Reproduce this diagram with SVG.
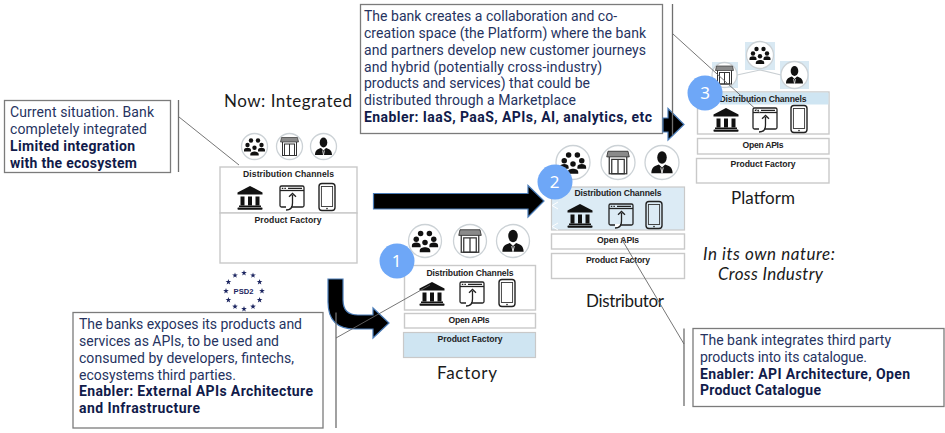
<svg xmlns="http://www.w3.org/2000/svg" width="945" height="433" viewBox="0 0 945 433">
<style>
.box{fill:#fff;stroke:#7b7b7b;stroke-width:1.3}
.bracket{fill:none;stroke:#6f6f6f;stroke-width:1.3}
.lead{fill:none;stroke:#666;stroke-width:.9}
.arrow{fill:#000;stroke:#4a7cb8;stroke-width:1.2}
.t{font-family:Roboto,"Noto Sans",sans-serif;font-size:14px;fill:#26335f}
.b{font-family:Roboto,"Noto Sans",sans-serif;font-size:14px;font-weight:700;fill:#111b4a}
.cell{fill:#fff;stroke:#c9c9c9;stroke-width:1.4}
.lab{font-family:"Liberation Sans",Arial,sans-serif;font-size:8.6px;font-weight:700;fill:#222;text-anchor:middle}
.cap{font-family:Lato,"Open Sans",sans-serif;font-size:17px;fill:#1a1a1a;text-anchor:middle}
.it{font-family:Lato,"Open Sans",sans-serif;font-size:17px;font-style:italic;fill:#1a1a1a}
.ring{fill:#fff;stroke:#ccd2d6;stroke-width:1.3}
.badge{fill:#6ea7f7}
.num{font-family:"Noto Sans",sans-serif;font-size:17px;fill:#fff;text-anchor:middle}
.ol{fill:none;stroke:#222;stroke-width:1.3}
.star{fill:#1c2560}
</style>
<defs>
<g id="bank"><path d="M0-11L12.5-4.5V-2.5H-12.5V-4.5Z" fill="#111"/><rect x="-9.5" y="-.5" width="4" height="9" fill="#111"/><rect x="-2" y="-.5" width="4" height="9" fill="#111"/><rect x="5.5" y="-.5" width="4" height="9" fill="#111"/><rect x="-11" y="8.5" width="22" height="1.5" fill="#111"/><rect x="-12.5" y="10.5" width="25" height="2.2" rx=".8" fill="#111"/></g>
<g id="web"><rect x="-12" y="-11" width="24" height="21" rx="1.5" class="ol"/><path d="M-12-6.5H12" class="ol"/><path d="M-10.2-8.7h1.5M-7.6-8.7h1.5M-4-8.7H10" stroke="#222" stroke-width="1.2" fill="none"/><rect x="-6" y="9" width="5" height="3" fill="#fff"/><path d="M-6 13C0 13 .5 9 .5 6V-2M-3-.2L.5-3.5 4-.2" class="ol"/></g>
<g id="phone"><rect x="-8" y="-13.5" width="16" height="27" rx="3" fill="none" stroke="#222" stroke-width="1.4"/><rect x="-5.6" y="-10.5" width="11.2" height="20" fill="none" stroke="#333" stroke-width=".9"/><circle cx="0" cy="11.6" r=".8" fill="#222"/></g>
<g id="people"><circle cx="-3.5" cy="-6" r="2.2" fill="#111"/><circle cx="3.5" cy="-6" r="2.2" fill="#111"/><circle cx="-7" cy="-1.5" r="2.2" fill="#111"/><circle cx="7" cy="-1.5" r="2.2" fill="#111"/><circle cx="0" cy="1.2" r="2.2" fill="#111"/><path d="M-10.5 3.5c0-3 7-3 7 0V5h-7ZM3.5 3.5c0-3 7-3 7 0V5h-7ZM-4.2 7.5c0-3.4 8.4-3.4 8.4 0V9h-8.4Z" fill="#111"/></g>
<g id="shop"><rect x="-7" y="-8" width="14" height="17" fill="none" stroke="#333" stroke-width="1"/><path d="M-8-9H8L9-4.5H-9Z" fill="#8a8a8a" stroke="#333" stroke-width=".7"/><rect x="-5" y="-2.5" width="10" height="11.5" fill="none" stroke="#333" stroke-width="1"/><path d="M0-2.500V9" stroke="#333" stroke-width="1"/></g>
<g id="person"><ellipse cx="0" cy="-4" rx="3.800" ry="5" fill="#111"/><path d="M-8.500 8.500C-8.500 3-5 2.500-2.500 1.500L0 4 2.500 1.500C5 2.500 8.500 3 8.500 8.500Z" fill="#111"/><path d="M-1 4L0 8.500 1 4" stroke="#fff" stroke-width=".7" fill="none"/></g>
<polygon id="s" points="0,-3 .7,-1 2.85,-.93 1.14,.37 1.76,2.43 0,1.2 -1.76,2.43 -1.14,.37 -2.85,-.93 -.7,-1" class="star"/>
</defs>
<rect width="945" height="433" fill="#fff"/>

<g id="note-current">
<rect class="box" x="4.500" y="100.500" width="166" height="72"/>
<text class="t" x="10" y="117" textLength="144">Current situation. Bank</text>
<text class="t" x="10" y="134" textLength="137">completely integrated</text>
<text class="b" x="10" y="151" textLength="125">Limited integration</text>
<text class="b" x="10" y="168" textLength="127">with the ecosystem</text>
</g>
<g id="title-now"><text class="cap" x="288" y="107" textLength="128">Now: Integrated</text></g>

<g id="note-platform">
<rect class="box" x="360.500" y="4.500" width="302" height="129"/>
<text class="t" x="364" y="21" textLength="253">The bank creates a collaboration and co-</text>
<text class="t" x="364" y="38" textLength="282">creation space (the Platform) where the bank</text>
<text class="t" x="364" y="55" textLength="282">and partners develop new customer journeys</text>
<text class="t" x="364" y="71.500" textLength="238">and hybrid (potentially cross-industry)</text>
<text class="t" x="364" y="88" textLength="226">products and services) that could be</text>
<text class="t" x="364" y="104.500" textLength="212">distributed through a Marketplace</text>
<text class="b" x="364" y="121.500" textLength="288">Enabler: IaaS, PaaS, APIs, AI, analytics, etc</text>
</g>

<g id="note-factory">
<rect class="box" x="73" y="312.500" width="250" height="115.500"/>
<text class="t" x="79" y="329" textLength="223">The banks exposes its products and</text>
<text class="t" x="79" y="346" textLength="200">services as APIs, to be used and</text>
<text class="t" x="79" y="363" textLength="215">consumed by developers, fintechs,</text>
<text class="t" x="79" y="379.500" textLength="157">ecosystems third parties.</text>
<text class="b" x="79" y="396" textLength="234">Enabler: External APIs Architecture</text>
<text class="b" x="79" y="412.500" textLength="121">and Infrastructure</text>
</g>

<g id="note-distributor">
<rect class="box" x="693" y="328.500" width="251" height="78"/>
<text class="t" x="700" y="345" textLength="191">The bank integrates third party</text>
<text class="t" x="700" y="362" textLength="167">products into its catalogue.</text>
<text class="b" x="700" y="378.500" textLength="210">Enabler: API Architecture, Open</text>
<text class="b" x="700" y="395" textLength="121">Product Catalogue</text>
</g>

<g id="psd2">
<use href="#s" x="244" y="273"/><use href="#s" x="253" y="275.400"/><use href="#s" x="259.600" y="282"/><use href="#s" x="262" y="291"/><use href="#s" x="259.600" y="300"/><use href="#s" x="253" y="306.600"/><use href="#s" x="244" y="309"/><use href="#s" x="235" y="306.600"/><use href="#s" x="228.400" y="300"/><use href="#s" x="226" y="291"/><use href="#s" x="228.400" y="282"/><use href="#s" x="235" y="275.400"/>
<text x="243.500" y="294" font-family="Liberation Sans,sans-serif" font-size="7.600" font-weight="700" fill="#1c2560" text-anchor="middle">PSD2</text>
</g>

<g id="node-integrated">
<rect class="cell" x="220" y="167" width="137" height="46"/>
<rect class="cell" x="220" y="213" width="137" height="50"/>
<text class="lab" x="288.500" y="177" textLength="91">Distribution Channels</text>
<text class="lab" x="288" y="223" textLength="67">Product Factory</text>
<use href="#bank" x="250" y="197"/><use href="#web" x="292" y="197"/><use href="#phone" x="327" y="197"/>
<circle class="ring" cx="254.500" cy="146.500" r="13"/><use href="#people" x="254.500" y="146.500"/>
<circle class="ring" cx="289.500" cy="146.500" r="13"/><use href="#shop" x="289.500" y="146.500"/>
<circle class="ring" cx="323.500" cy="146.500" r="13"/><use href="#person" x="323.500" y="146.500"/>
</g>

<g id="node-factory">
<rect class="cell" x="404.500" y="265.500" width="131" height="44.500"/>
<rect class="cell" x="404.500" y="313.500" width="131" height="14.500"/>
<rect x="403.500" y="332.500" width="132" height="25" fill="#cfe5f2" stroke="#c9c9c9" stroke-width="1.200"/>
<text class="lab" x="470" y="276" textLength="87">Distribution Channels</text>
<text class="lab" x="469" y="323" textLength="41">Open APIs</text>
<text class="lab" x="470" y="342" textLength="65">Product Factory</text>
<use href="#bank" x="432" y="293"/><use href="#web" x="472" y="293"/><use href="#phone" x="507" y="293"/>
<circle class="ring" cx="425" cy="241" r="16.500"/><use href="#people" transform="translate(425 241) scale(1.250)"/>
<circle class="ring" cx="470" cy="241" r="16.500"/><use href="#shop" transform="translate(470 241) scale(1.250)"/>
<circle class="ring" cx="513" cy="241" r="16.500"/><use href="#person" transform="translate(513 241) scale(1.250)"/>
<circle class="badge" cx="397" cy="261" r="17.500"/><text class="num" x="396.500" y="267">1</text>
<text class="cap" x="467" y="379" textLength="60">Factory</text>
</g>

<g id="node-distributor">
<rect x="551.500" y="187" width="133" height="43" fill="#dcebf5" stroke="#c9c9c9" stroke-width="1.200"/>
<rect class="cell" x="551.500" y="234" width="133" height="15"/>
<rect class="cell" x="551.500" y="253.500" width="133" height="25"/>
<text class="lab" x="618" y="196" textLength="87">Distribution Channels</text>
<text class="lab" x="618" y="243" textLength="42">Open APIs</text>
<text class="lab" x="618" y="263" textLength="64">Product Factory</text>
<use href="#bank" x="580" y="215"/><use href="#web" x="621" y="215"/><use href="#phone" x="654" y="215"/>
<path d="M558 202l-6 3.500 6 3.500M558 223l-6 3.500 6 3.500" fill="none" stroke="#fff" stroke-width="1"/>
<circle class="ring" cx="573" cy="162.500" r="17"/><use href="#people" transform="translate(573 162.500) scale(1.250)"/>
<circle class="ring" cx="618" cy="162.500" r="17"/><use href="#shop" transform="translate(618 162.500) scale(1.250)"/>
<circle class="ring" cx="662" cy="162.500" r="17"/><use href="#person" transform="translate(662 162.500) scale(1.250)"/>
<circle class="badge" cx="555" cy="182" r="17.500"/><text class="num" x="554.500" y="188">2</text>
<text class="cap" x="625" y="307" textLength="78">Distributor</text>
</g>

<g id="node-platform">
<rect class="cell" x="697.500" y="92" width="131.500" height="42"/>
<rect x="720" y="92.500" width="108.500" height="12" fill="#cfe5f2"/>
<rect class="cell" x="697.500" y="138.500" width="131.500" height="15.500"/>
<rect class="cell" x="696.500" y="158.500" width="132.500" height="24.500"/>
<text class="lab" x="763" y="102" textLength="87">Distribution Channels</text>
<text class="lab" x="763" y="148" textLength="41">Open APIs</text>
<text class="lab" x="763" y="167" textLength="65">Product Factory</text>
<use href="#bank" x="726" y="119"/><use href="#web" x="765" y="119"/><use href="#phone" x="799" y="119"/>
<rect x="745" y="42" width="30" height="28" fill="#d9e9f3"/><rect x="712" y="62" width="26" height="26" fill="#d9e9f3"/><rect x="780" y="61" width="29" height="28" fill="#d9e9f3"/>
<path d="M737 75L760 70 781 75" fill="none" stroke="#c9cfd3" stroke-width="1.200"/>
<circle class="ring" cx="760" cy="55" r="13.500"/><use href="#people" x="760" y="55"/>
<circle class="ring" cx="724.500" cy="75" r="12.500"/><use href="#shop" x="724.500" y="75"/>
<circle class="ring" cx="794.500" cy="75" r="13.500"/><use href="#person" x="794.500" y="75"/>
<circle class="badge" cx="705" cy="93" r="17.500"/><text class="num" x="705" y="99">3</text>
<text class="cap" x="763" y="204" textLength="64">Platform</text>
</g>

<g id="note-nature">
<text class="it" x="703" y="260" textLength="132">In its own nature:</text>
<text class="it" x="718" y="280" textLength="105">Cross Industry</text>
</g>

<g id="connectors">
<path class="arrow" d="M373.500 193.500H528V185.500L544 201 528 217V209H373.500Z"/>
<path class="arrow" d="M663 118H668V108.500L684 124.500 668 140V132H663Z"/>
<path class="arrow" d="M328 279H343V300Q343 315 358 315H373V308L389 323 373 338V329H355Q328 329 328 302Z"/>
<path class="bracket" d="M178.500 100V172M672.500 4V135M336 312.500V428M684 328.500V406"/>
<path class="lead" d="M179 117L239 165M673 34L760 113M336 338L430 285M684 344L621 238"/>
</g>
</svg>
